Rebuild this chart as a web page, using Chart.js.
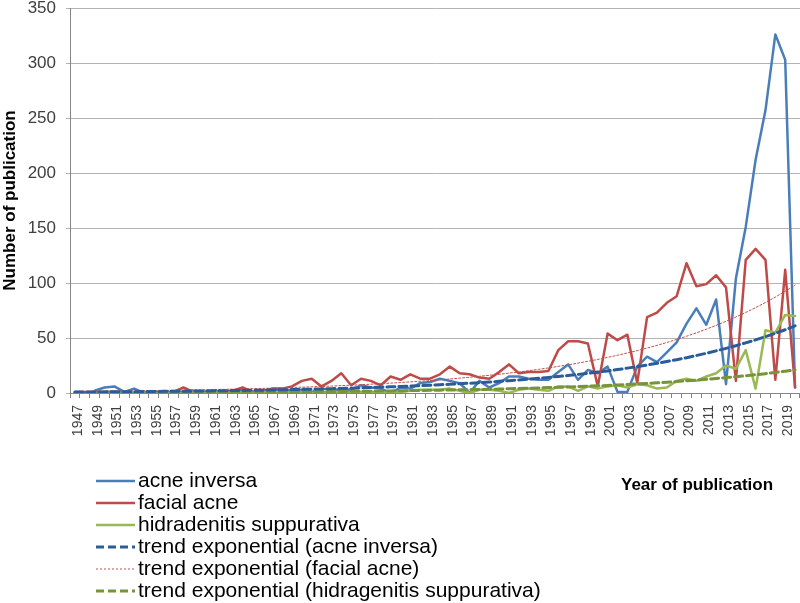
<!DOCTYPE html>
<html lang="en">
<head>
  <meta charset="UTF-8" />
  <title>Number of publications per year</title>
  <script src="https://cdn.jsdelivr.net/npm/chart.js"></script>
  <style>
    body { margin: 0; background: #fff; }
    #wrap { width: 800px; height: 603px; }
  </style>
</head>
<body>
  <div id="wrap"><canvas id="pubChart" width="800" height="603"></canvas></div>

  <script>
    // Years on the x axis (1947 - 2020)
    const years = [
      '1947','1948','1949','1950','1951','1952','1953','1954','1955','1956',
      '1957','1958','1959','1960','1961','1962','1963','1964','1965','1966',
      '1967','1968','1969','1970','1971','1972','1973','1974','1975','1976',
      '1977','1978','1979','1980','1981','1982','1983','1984','1985','1986',
      '1987','1988','1989','1990','1991','1992','1993','1994','1995','1996',
      '1997','1998','1999','2000','2001','2002','2003','2004','2005','2006',
      '2007','2008','2009','2010','2011','2012','2013','2014','2015','2016',
      '2017','2018','2019','2020'
    ];

    const acneInversa = [
      null, null, 2, 5, 6, 1, 4, 0, 1, 1,
      0, 1, 2, 1, 2, 1, 2, 3, 1, 2,
      3, 3, 2, 3, 1, 4, 3, 3, 3, 7,
      5, 4, 0, 5, 4, 9, 10, 13, 11, 9,
      0, 11, 5, 9, 15, 15, 13, 12, 12, 19,
      26, 12, 21, 18, 24, 1, 1, 24, 33, 28,
      37, 46, 63, 77, 62, 85, 8, 104, 151, 212,
      257, 326, 303, 5
    ];

    const facialAcne = [
      1, 1, 1, 1, 1, 0, 0, 0, 1, 0,
      1, 5, 1, 1, 1, 1, 2, 5, 1, 2,
      4, 4, 6, 11, 13, 6, 11, 18, 7, 13,
      11, 7, 15, 12, 17, 13, 13, 17, 24, 18,
      17, 14, 13, 19, 26, 18, 19, 19, 20, 39,
      47, 47, 45, 6, 54, 48, 53, 9, 69, 73,
      82, 88, 118, 97, 99, 107, 96, 11, 121, 131,
      121, 12, 112, 5
    ];

    const hidradenitis = [
      null, null, 0, 1, 1, 0, 0, 0, 0, 0,
      0, 0, 1, 0, 0, 1, 0, 1, 0, 1,
      1, 0, 1, 1, 0, 1, 1, 0, 1, 1,
      1, 0, 1, 1, 2, 3, 3, 3, 4, 2,
      0, 3, 3, 2, 0, 3, 4, 3, 2, 6,
      6, 2, 6, 4, 6, 7, 5, 8, 7, 4,
      5, 11, 13, 11, 15, 18, 25, 22, 39, 4,
      57, 55, 71, 70
    ];

    // Exponential trend lines
    const trendInversa = [
      0.9, 0.9, 1.0, 1.0, 1.1, 1.2, 1.2, 1.3, 1.4, 1.5,
      1.5, 1.6, 1.7, 1.8, 2.0, 2.1, 2.2, 2.3, 2.5, 2.6,
      2.8, 2.9, 3.1, 3.3, 3.5, 3.7, 3.9, 4.2, 4.4, 4.7,
      5.0, 5.3, 5.6, 5.9, 6.3, 6.6, 7.0, 7.5, 7.9, 8.4,
      8.9, 9.4, 10.0, 10.6, 11.2, 11.9, 12.6, 13.4, 14.2, 15.0,
      15.9, 16.9, 17.9, 19.0, 20.1, 21.3, 22.6, 24.0, 25.4, 27.0,
      28.6, 30.3, 32.1, 34.1, 36.1, 38.3, 40.6, 43.0, 45.6, 48.3,
      51.2, 54.3, 57.5, 61.0
    ];

    const trendFacial = [
      1.4, 1.5, 1.6, 1.7, 1.8, 1.9, 2.0, 2.1, 2.2, 2.3,
      2.5, 2.6, 2.8, 2.9, 3.1, 3.3, 3.5, 3.7, 4.0, 4.2,
      4.4, 4.7, 5.0, 5.3, 5.6, 6.0, 6.3, 6.7, 7.1, 7.5,
      8.0, 8.5, 9.0, 9.5, 10.1, 10.7, 11.3, 12.0, 12.7, 13.5,
      14.3, 15.2, 16.1, 17.0, 18.1, 19.1, 20.3, 21.5, 22.8, 24.2,
      25.6, 27.2, 28.8, 30.5, 32.4, 34.3, 36.4, 38.5, 40.9, 43.3,
      45.9, 48.7, 51.6, 54.7, 58.0, 61.5, 65.2, 69.1, 73.2, 77.6,
      82.3, 87.2, 92.5, 98.0
    ];

    const trendHidra = [
      0.3, 0.3, 0.3, 0.3, 0.4, 0.4, 0.4, 0.4, 0.5, 0.5,
      0.5, 0.6, 0.6, 0.6, 0.7, 0.7, 0.8, 0.8, 0.9, 0.9,
      1.0, 1.0, 1.1, 1.1, 1.2, 1.3, 1.3, 1.4, 1.5, 1.6,
      1.7, 1.8, 1.9, 2.0, 2.2, 2.3, 2.4, 2.6, 2.7, 2.9,
      3.1, 3.2, 3.4, 3.6, 3.9, 4.1, 4.3, 4.6, 4.9, 5.2,
      5.5, 5.8, 6.2, 6.5, 6.9, 7.3, 7.8, 8.3, 8.7, 9.3,
      9.8, 10.4, 11.1, 11.7, 12.4, 13.2, 14.0, 14.8, 15.7, 16.6,
      17.6, 18.7, 19.8, 21.0
    ];

    const yTicks = [0, 50, 100, 150, 200, 250, 300, 350];

    const FONT = '"Liberation Sans", Arial, sans-serif';

    // Legend stacked under the plot, plus the x axis title on the right
    const legendRows = {
      id: 'legendRows',
      afterDraw(chart) {
        const ctx = chart.ctx;
        ctx.save();
        chart.data.datasets.forEach((ds, i) => {
          const y = 481 + i * 22;
          ctx.beginPath();
          ctx.strokeStyle = ds.borderColor;
          ctx.lineWidth = ds.borderWidth;
          ctx.setLineDash(ds.borderDash || []);
          ctx.moveTo(96, y);
          ctx.lineTo(135, y);
          ctx.stroke();
          ctx.setLineDash([]);
          ctx.fillStyle = '#000';
          ctx.font = '21px ' + FONT;
          ctx.textBaseline = 'middle';
          ctx.fillText(ds.label, 138, y);
        });
        ctx.font = 'bold 17px ' + FONT;
        ctx.fillStyle = '#000';
        ctx.textBaseline = 'middle';
        ctx.fillText('Year of publication', 621, 485);
        ctx.restore();
      }
    };

    const ctx = document.getElementById('pubChart').getContext('2d');
    new Chart(ctx, {
      type: 'line',
      data: {
        labels: years,
        datasets: [
          { label: 'acne inversa', data: acneInversa, borderColor: '#4A7EBB', borderWidth: 2.5, order: 3 },
          { label: 'facial acne', data: facialAcne, borderColor: '#BE4B48', borderWidth: 2.5, order: 2 },
          { label: 'hidradenitis suppurativa', data: hidradenitis, borderColor: '#98B954', borderWidth: 2.5, order: 1 },
          { label: 'trend exponential (acne inversa)', data: trendInversa, borderColor: '#2A5C9A', borderWidth: 3, borderDash: [8, 4], order: 0 },
          { label: 'trend exponential (facial acne)', data: trendFacial, borderColor: '#C0504D', borderWidth: 1, borderDash: [2, 2], order: 0 },
          { label: 'trend exponential (hidragenitis suppurativa)', data: trendHidra, borderColor: '#77933C', borderWidth: 3, borderDash: [8, 4], order: 0 }
        ]
      },
      options: {
        responsive: false,
        animation: false,
        layout: { padding: 0 },
        elements: {
          point: { radius: 0 },
          line: { tension: 0, fill: false, borderCapStyle: 'round', borderJoinStyle: 'round' }
        },
        plugins: {
          legend: { display: false },
          tooltip: { enabled: false }
        },
        scales: {
          x: {
            offset: true,
            grid: {
              offset: true,
              drawOnChartArea: false,
              drawTicks: true,
              tickLength: 5,
              color: '#868686'
            },
            border: { color: '#868686' },
            ticks: {
              autoSkip: false,
              maxRotation: 90,
              minRotation: 90,
              padding: 7,
              labelOffset: 3,
              color: '#404040',
              font: { family: FONT, size: 14 },
              callback: function (value, index) {
                return index % 2 === 0 ? this.getLabelForValue(value) : '';
              }
            },
            afterFit: (scale) => {
              scale.height = 210;
              scale.paddingLeft = 0;
              scale.paddingRight = 0;
            }
          },
          y: {
            min: 0,
            max: 350,
            afterBuildTicks: (scale) => { scale.ticks = yTicks.map(v => ({ value: v })); },
            grid: { color: '#B3B3B3', tickLength: 4, drawTicks: true },
            border: { color: '#868686' },
            ticks: {
              color: '#404040',
              padding: 10,
              font: { family: FONT, size: 17 }
            },
            title: {
              display: true,
              text: 'Number of publication',
              color: '#000',
              padding: { top: 0, bottom: 2 },
              font: { family: FONT, size: 17, weight: 'bold' }
            },
            afterFit: (scale) => {
              scale.width = 70;
              scale.paddingTop = 8;
              scale.paddingBottom = 0;
            }
          }
        }
      },
      plugins: [legendRows]
    });
  </script>
</body>
</html>
